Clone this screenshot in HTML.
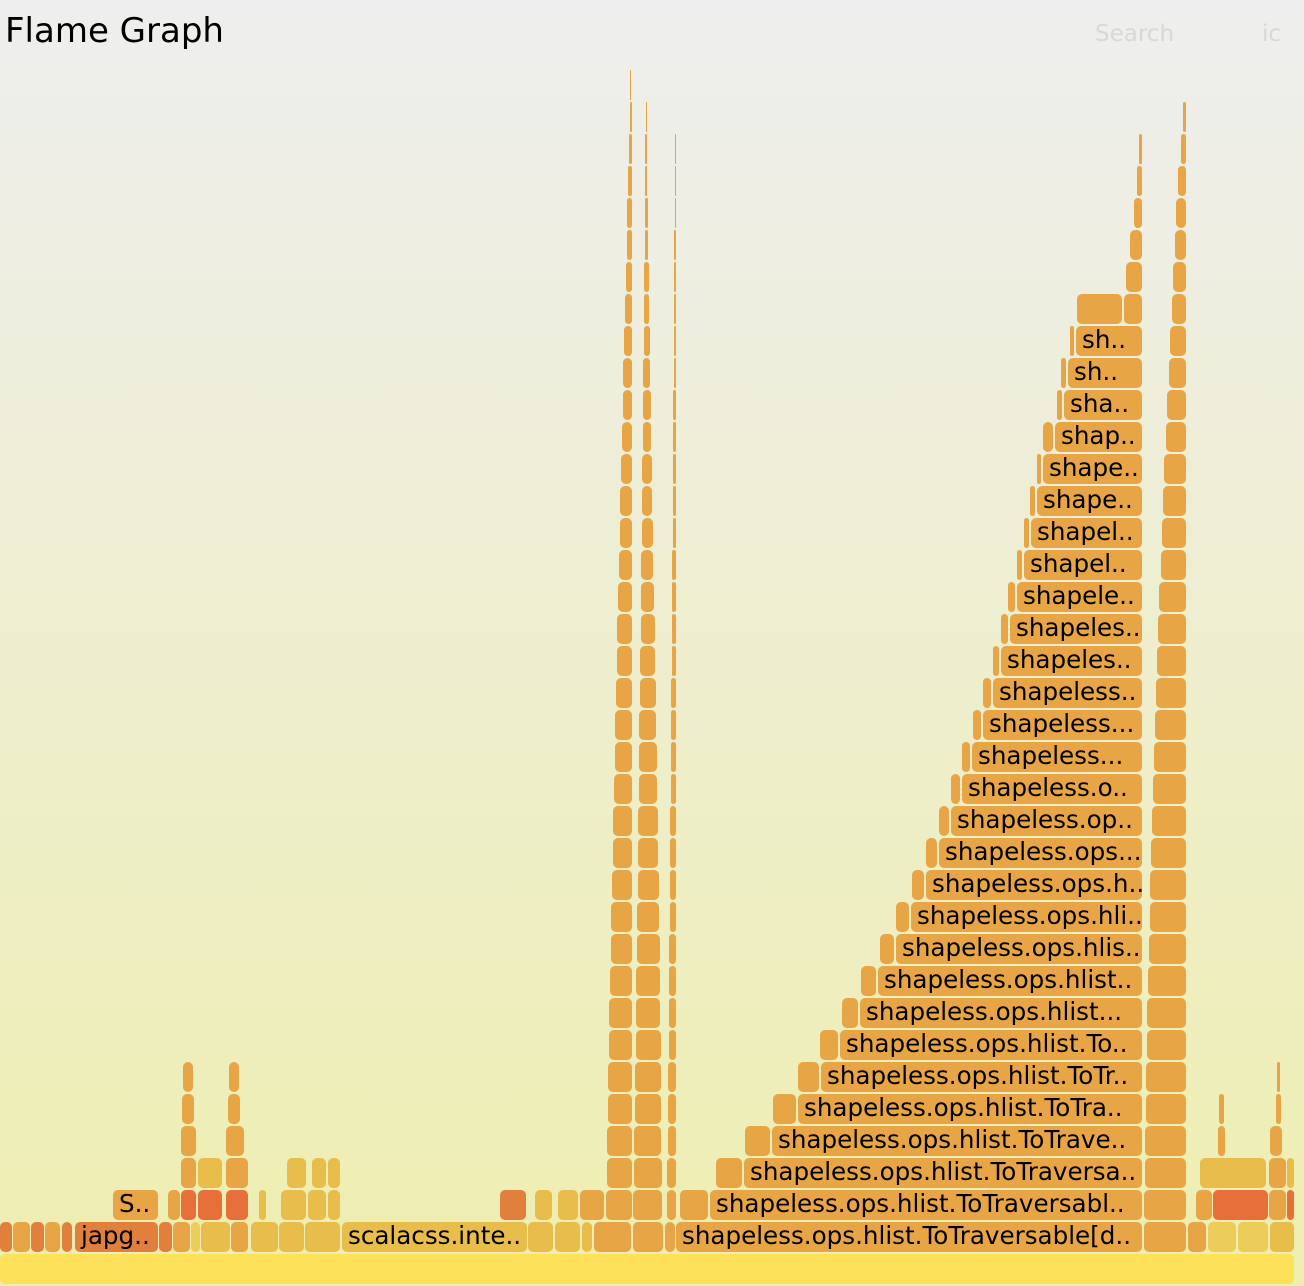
<!DOCTYPE html>
<html><head><meta charset="utf-8">
<style>
html,body{margin:0;padding:0;}
body{width:1304px;height:1286px;overflow:hidden;background:linear-gradient(#eeeeee,#eeeeb0);font-family:"DejaVu Sans","Liberation Sans",sans-serif;position:relative;}
#title{position:absolute;left:5px;top:11px;font-size:34px;color:#000;}
#search{position:absolute;left:1095px;top:21px;font-size:23px;color:#d8d8d8;}
#ic{position:absolute;left:1262px;top:21px;font-size:23px;color:#d8d8d8;}
svg{position:absolute;left:0;top:0;}
</style></head>
<body>
<div id="title">Flame Graph</div>
<div id="search">Search</div>
<div id="ic">ic</div>
<svg id="fg" width="1304" height="1286"></svg>
<script>
// frames: [depth, x0, x1, label, color]
const OR = "#e8a545", RD = "#e0803c", YL = "#e9bd4b", LR = "#e76f3a", PY = "#eccd5a";
const rootFrame = [0, 0, 1294, "", "#fde15a"];
const depth1 = [
 [1,0,12,"",RD],[1,13,30,"",OR],[1,31,44,"",RD],[1,45,60,"",OR],[1,62,72,"",RD],
 [1,75,158,"japg..",RD],[1,159,172,"",RD],[1,173,190,"",OR],[1,191,200,"",PY],[1,201,230,"",YL],[1,231,248,"",OR],
 [1,251,278,"",YL],[1,279,304,"",YL],[1,305,340,"",YL],
 [1,342,527,"scalacss.inte..",YL],[1,528,553,"",YL],[1,555,580,"",YL],[1,582,592,"",YL],
 [1,594,631,"",OR],[1,633,663,"",OR],[1,665,675,"",OR],
 [1,676,1142,"shapeless.ops.hlist.ToTraversable[d..",OR],[1,1144,1186,"",OR],
 [1,1188,1206,"",OR],[1,1208,1236,"",PY],[1,1238,1268,"",PY],[1,1270,1294,"",YL]
];
const depth2 = [
 [2,113,158,"S..",OR],[2,168,180,"",OR],[2,181,196,"",LR],[2,198,222,"",LR],[2,226,248,"",LR],
 [2,259,266,"",YL],[2,281,306,"",YL],[2,308,326,"",YL],[2,328,340,"",YL],
 [2,500,526,"",RD],[2,535,552,"",YL],[2,558,578,"",YL],[2,580,604,"",OR],
 [2,1196,1212,"",OR],[2,1213,1268,"",LR],[2,1269,1286,"",OR],[2,1287,1294,"",LR]
];
const depth3 = [
 [3,181,196,"",OR],[3,198,222,"",YL],[3,226,248,"",OR],[3,287,306,"",YL],[3,312,326,"",YL],[3,328,340,"",YL],
 [3,1200,1266,"",YL],[3,1269,1286,"",OR],[3,1287,1294,"",YL]
];
const smallUp = [
 [4,181,196,"",OR],[4,226,244,"",OR],[5,182,194,"",OR],[5,228,240,"",OR],[6,183,193,"",OR],[6,229,239,"",OR],
 [4,1218,1225,"",OR],[4,1270,1282,"",OR],[5,1219,1224,"",OR],[5,1276,1281,"",OR],[6,1277,1280,"",OR]
];
const stairLeft = [710,744,772,798,821,840,860,878,896,911,926,939,951,962,972,983,993,1001,1010,1017,1024,1031,1037,1043,1055,1064,1068,1076];
const stairStub = [680,716,745,773,798,820,842,861,880,896,912,926,939,951,962,973,983,993,1001,1008,1017,1024,1030,1037,1043,1057,1061,1070];
const stairLabels = ["shapeless.ops.hlist.ToTraversabl..","shapeless.ops.hlist.ToTraversa..","shapeless.ops.hlist.ToTrave..","shapeless.ops.hlist.ToTra..","shapeless.ops.hlist.ToTr..","shapeless.ops.hlist.To..","shapeless.ops.hlist...","shapeless.ops.hlist..","shapeless.ops.hlis..","shapeless.ops.hli..","shapeless.ops.h..","shapeless.ops...","shapeless.op..","shapeless.o..","shapeless...","shapeless...","shapeless..","shapeles..","shapeles..","shapele..","shapel..","shapel..","shape..","shape..","shap..","sha..","sh..","sh.."];
const stairTopLeft = [1077,1126,1130,1134,1137,1139];
const towerALeft = [606,607,607,608,608,609,609,610,611,611,612,613,613,614,615,615,616,617,617,618,619,620,620,621,622,623,623,624,625,626,627,627,628,629,630,630];
const towerARight= [632,632,632,632,632,632,632,632,632,632,632,632,632,632,632,632,632,632,632,632,632,632,632,632,632,632,632,632,632,632,632,632,632,632,632,631];
const towerBLeft = [633,634,634,635,635,636,636,636,637,637,638,638,638,639,639,639,640,640,641,641,641,642,642,642,643,643,643,644,644,644,645,645,645,645,646];
const towerBRight= [662,662,661,661,661,661,660,660,660,659,659,658,658,657,657,656,656,655,655,654,653,653,652,652,651,651,650,650,649,649,648,648,647,647,647];
const towerCLeft = [667,667,668,668,668,669,669,669,669,670,670,670,670,671,671,671,671,672,672,672,672,673,673,673,673,673,674,674,674,674,674,675,675,675];
const towerCRight= [676,676,676,676,676,676,676,676,676,676,676,676,676,676,676,676,676,676,676,676,676,676,676,676,676,676,676,676,676,676,676,676,676,676];
const colLeft = [1144,1145,1145,1146,1146,1147,1147,1148,1149,1150,1150,1151,1152,1153,1154,1155,1156,1157,1158,1159,1161,1162,1163,1164,1166,1167,1169,1170,1172,1173,1175,1176,1178,1181,1183];
const colRight = [1186,1186,1186,1186,1186,1186,1186,1186,1186,1186,1186,1186,1186,1186,1186,1186,1186,1186,1186,1186,1186,1186,1186,1186,1186,1186,1186,1186,1186,1186,1186,1186,1186,1186,1186];

const svg = document.getElementById('fg');
const NS = "http://www.w3.org/2000/svg";
function rowTop(d){ return 1254 - 32*d; }
function drawFrame(f, name){
  const [d,x0,x1,label,color] = f;
  const w = Math.max(1, x1 - x0);
  const g = document.createElementNS(NS,'g');
  
  
  const r = document.createElementNS(NS,'rect');
  r.setAttribute('x', x0); r.setAttribute('y', rowTop(d));
  r.setAttribute('width', w); r.setAttribute('height', 30);
  const rad = Math.min(5, w/2);
  r.setAttribute('rx', rad); r.setAttribute('ry', rad);
  r.setAttribute('fill', color);
  g.appendChild(r);
  if(label){
    const t = document.createElementNS(NS,'text');
    t.setAttribute('x', x0 + 6); t.setAttribute('y', rowTop(d) + 22);
    t.setAttribute('font-size', '24.6');
    t.setAttribute('font-family', '"DejaVu Sans", "Liberation Sans", sans-serif');
    t.setAttribute('fill', '#000');
    t.textContent = label;
    g.appendChild(t);
  }
  svg.appendChild(g);
}
drawFrame(rootFrame, 'root-frame');
[...depth1, ...depth2, ...depth3, ...smallUp].forEach(f => drawFrame(f, 'stack-frame'));
stairLeft.forEach((x, i) => {
  const d = i + 2;
  drawFrame([d, stairStub[i], x - 2, "", OR], 'stack-frame');
  drawFrame([d, x, 1142, stairLabels[i], OR], 'shapeless-frame');
});
drawFrame([30, stairTopLeft[0], 1122, "", OR], 'stack-frame');
drawFrame([30, 1124, 1142, "", OR], 'stack-frame');
stairTopLeft.slice(1).forEach((x, i) => drawFrame([31 + i, x, 1142, "", OR], 'stack-frame'));
towerALeft.forEach((x, i) => drawFrame([i + 2, x, towerARight[i], "", OR], 'tower-frame'));
towerBLeft.forEach((x, i) => drawFrame([i + 2, x, towerBRight[i], "", OR], 'tower-frame'));
towerCLeft.forEach((x, i) => drawFrame([i + 2, x, towerCRight[i], "", OR], 'tower-frame'));
colLeft.forEach((x, i) => drawFrame([i + 2, x, colRight[i], "", OR], 'column-frame'));
</script>
</body></html>
